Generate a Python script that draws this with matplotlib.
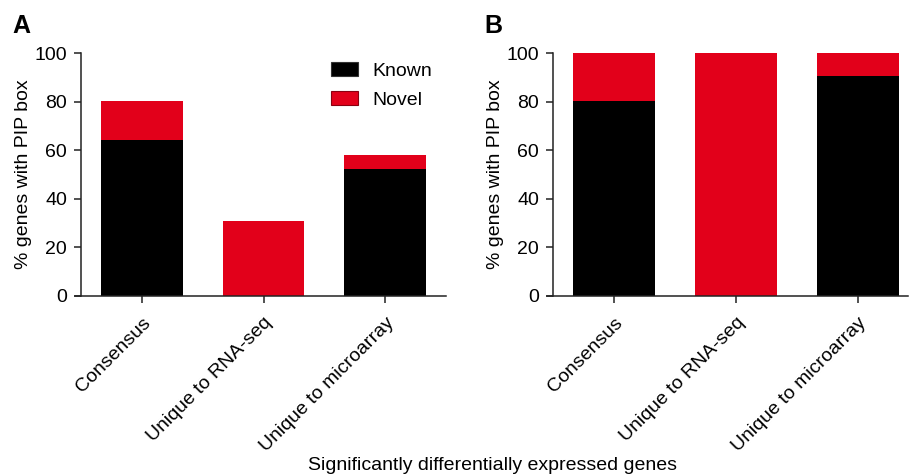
import numpy as np
import matplotlib
matplotlib.use('Agg')
import matplotlib.pyplot as plt
from matplotlib.patches import Patch

plt.rcParams['font.family'] = ['Liberation Sans', 'DejaVu Sans']

categories = ['Consensus', 'Unique to RNA-seq', 'Unique to microarray']
# panel A: % of genes with a PIP box
known_a = [64.2, 0.0, 52.3]
novel_a = [16.0, 31.0, 5.7]
# panel B
known_b = [80.2, 0.0, 90.5]
novel_b = [19.8, 100.0, 9.5]

BLACK = '#000000'
RED = '#E2001A'
FS = 14

W, H = 909, 474
fig = plt.figure(figsize=(W / 100, H / 100), dpi=100)


def px_axes(x0, x1, y0, y1):
    return fig.add_axes([x0 / W, 1 - y1 / H, (x1 - x0) / W, (y1 - y0) / H])


def style(ax, xright):
    x = np.arange(len(categories))
    ax.set_xlim(-0.55, xright)
    ax.set_ylim(0, 100)
    ax.spines['top'].set_visible(False)
    ax.spines['right'].set_visible(False)
    ax.spines['left'].set_position(('data', -0.5))
    for s in ['left', 'bottom']:
        ax.spines[s].set_linewidth(1.1)
        ax.spines[s].set_color('#222222')
    ax.set_yticks([0, 20, 40, 60, 80, 100])
    ax.set_xticks(x)
    ax.set_xticklabels(categories, rotation=45, ha='right', rotation_mode='anchor')
    ax.tick_params(axis='both', labelsize=FS, length=5, width=1.1, pad=5, color='#222222')
    ax.tick_params(axis='x', pad=8)
    ax.set_ylabel('% genes with PIP box', fontsize=FS, labelpad=2)


axA = px_axes(75, 446, 53, 296)
x = np.arange(len(categories))
axA.bar(x, known_a, width=0.67, color=BLACK, label='Known')
axA.bar(x, novel_a, bottom=known_a, width=0.67, color=RED, label='Novel')
style(axA, 2.5)
handles = [Patch(facecolor=BLACK, edgecolor='#333333', linewidth=0.8, label='Known'),
           Patch(facecolor=RED, edgecolor='#8a0010', linewidth=0.8, label='Novel')]
axA.legend(handles=handles, frameon=False, fontsize=FS, loc='upper left',
           bbox_to_anchor=((313 - 75) / 371, 1.035), handlelength=1.4, handleheight=0.72,
           handletextpad=0.75, labelspacing=0.58)

axB = px_axes(547, 908, 53, 296)
axB.bar(x, known_b, width=0.67, color=BLACK)
axB.bar(x, novel_b, bottom=known_b, width=0.67, color=RED)
style(axB, 2.41)

fig.text(12 / W, 1 - 26 / H, 'A', fontsize=18, fontweight='bold', va='center', ha='left')
fig.text(484 / W, 1 - 26 / H, 'B', fontsize=18, fontweight='bold', va='center', ha='left')
fig.text(493 / W, 1 - 465 / H, 'Significantly differentially expressed genes',
         fontsize=FS, ha='center', va='center')

fig.savefig('out.png', dpi=100)
